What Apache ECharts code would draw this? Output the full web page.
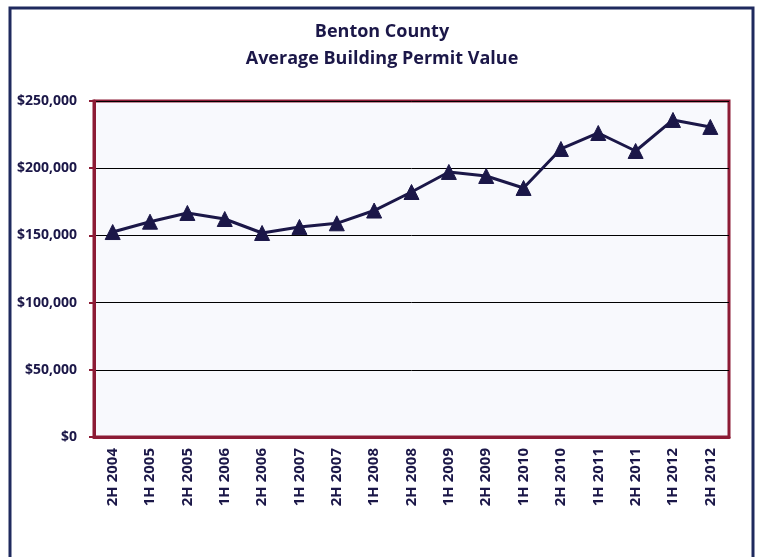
<!DOCTYPE html>
<html>
<head>
<meta charset="utf-8">
<style>
  html, body { margin: 0; padding: 0; background: #ffffff; }
  #chart { width: 761px; height: 557px; }
</style>
<script src="https://cdn.jsdelivr.net/npm/echarts@6/dist/echarts.min.js"></script>
</head>
<body>
<div id="chart"></div>
<script>
// 半年度标签
const periods = [
  '2H 2004', '1H 2005', '2H 2005', '1H 2006', '2H 2006', '1H 2007', '2H 2007',
  '1H 2008', '2H 2008', '1H 2009', '2H 2009', '1H 2010', '2H 2010', '1H 2011',
  '2H 2011', '1H 2012', '2H 2012'
];
// 平均建筑许可价值
const permitValues = [
  152500, 160200, 166700, 162200, 151800, 156300, 159000,
  168500, 182300, 197200, 194200, 185300, 214300, 226200,
  212800, 235900, 230700
];
const yTicks = [0, 50000, 100000, 150000, 200000, 250000];

const navy = '#1b1748';
const maroon = '#8c1b35';
const font = '"Open Sans", "Noto Sans", sans-serif';

const chart = echarts.init(document.getElementById('chart'));

const option = {
  animation: false,
  backgroundColor: '#ffffff',
  title: {
    text: 'Benton County\nAverage Building Permit Value',
    left: 377,
    textAlign: 'center',
    top: 13,
    textStyle: {
      color: navy,
      fontFamily: font,
      fontWeight: 'bold',
      fontSize: 18,
      lineHeight: 27
    }
  },
  graphic: [{
    type: 'rect',
    shape: { x: 10, y: 8, width: 743, height: 600 },
    style: { fill: 'none', stroke: '#1f2a5e', lineWidth: 3 },
    silent: true
  }],
  grid: {
    left: 94,
    right: 32,
    top: 101,
    bottom: 120,
    show: true,
    backgroundColor: '#f8f9fd',
    borderColor: maroon,
    borderWidth: 3
  },
  xAxis: {
    type: 'category',
    data: periods,
    boundaryGap: true,
    axisLine: { show: true, lineStyle: { color: maroon, width: 3 } },
    axisTick: { show: false },
    axisLabel: {
      rotate: 90,
      margin: 11,
      color: navy,
      fontFamily: font,
      fontWeight: 'bold',
      fontSize: 15,
      interval: 0
    }
  },
  yAxis: {
    type: 'value',
    min: yTicks[0],
    max: yTicks[yTicks.length - 1],
    interval: 50000,
    axisLine: { show: true, lineStyle: { color: maroon, width: 3 } },
    axisTick: { show: true, length: 5, lineStyle: { color: maroon, width: 2 } },
    splitLine: { show: true, lineStyle: { color: '#000000', width: 1 } },
    axisLabel: {
      margin: 17,
      color: navy,
      fontFamily: font,
      fontWeight: 'bold',
      fontSize: 14,
      formatter: v => '$' + v.toLocaleString('en-US')
    }
  },
  series: [{
    type: 'line',
    data: permitValues,
    symbol: 'triangle',
    symbolSize: 15,
    lineStyle: { color: navy, width: 3 },
    itemStyle: { color: navy, borderColor: navy, borderWidth: 1 }
  }]
};

chart.setOption(option);
</script>
</body>
</html>
